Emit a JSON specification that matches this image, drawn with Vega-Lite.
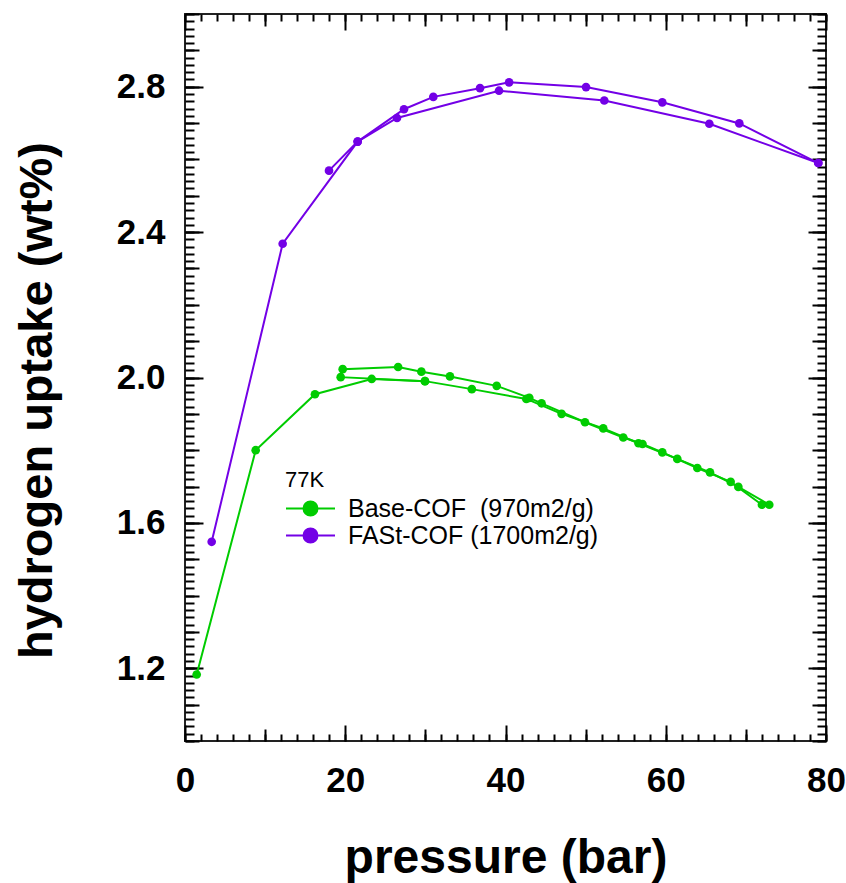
{
  "$schema": "https://vega.github.io/schema/vega-lite/v6.json",
  "width": 641,
  "height": 727,
  "autosize": "none",
  "padding": {"left": 185, "top": 14, "right": 20, "bottom": 142},
  "config": {
    "font": "Liberation Sans",
    "view": {"stroke": "#222222", "strokeWidth": 2}
  },
  "datasets": {
    "iso": [
      {"s": "Base-COF \u00a0(970m2/g)", "b": "B1", "i": 1, "p": 1.46, "u": 1.183},
      {"s": "Base-COF \u00a0(970m2/g)", "b": "B1", "i": 2, "p": 8.82, "u": 1.8},
      {"s": "Base-COF \u00a0(970m2/g)", "b": "B1", "i": 3, "p": 16.22, "u": 1.954},
      {"s": "Base-COF \u00a0(970m2/g)", "b": "B1", "i": 4, "p": 23.3, "u": 1.996},
      {"s": "Base-COF \u00a0(970m2/g)", "b": "B1", "i": 5, "p": 29.95, "u": 1.99},
      {"s": "Base-COF \u00a0(970m2/g)", "b": "B1", "i": 6, "p": 35.8, "u": 1.968},
      {"s": "Base-COF \u00a0(970m2/g)", "b": "B1", "i": 7, "p": 42.6, "u": 1.941},
      {"s": "Base-COF \u00a0(970m2/g)", "b": "B1", "i": 8, "p": 47.0, "u": 1.9},
      {"s": "Base-COF \u00a0(970m2/g)", "b": "B1", "i": 9, "p": 52.2, "u": 1.86},
      {"s": "Base-COF \u00a0(970m2/g)", "b": "B1", "i": 10, "p": 56.6, "u": 1.819},
      {"s": "Base-COF \u00a0(970m2/g)", "b": "B1", "i": 11, "p": 61.44, "u": 1.776},
      {"s": "Base-COF \u00a0(970m2/g)", "b": "B1", "i": 12, "p": 65.52, "u": 1.739},
      {"s": "Base-COF \u00a0(970m2/g)", "b": "B1", "i": 13, "p": 69.06, "u": 1.699},
      {"s": "Base-COF \u00a0(970m2/g)", "b": "B1", "i": 14, "p": 72.92, "u": 1.65},
      {"s": "Base-COF \u00a0(970m2/g)", "b": "B2", "i": 1, "p": 72.0, "u": 1.65},
      {"s": "Base-COF \u00a0(970m2/g)", "b": "B2", "i": 2, "p": 68.1, "u": 1.713},
      {"s": "Base-COF \u00a0(970m2/g)", "b": "B2", "i": 3, "p": 63.94, "u": 1.751},
      {"s": "Base-COF \u00a0(970m2/g)", "b": "B2", "i": 4, "p": 59.57, "u": 1.794},
      {"s": "Base-COF \u00a0(970m2/g)", "b": "B2", "i": 5, "p": 57.1, "u": 1.817},
      {"s": "Base-COF \u00a0(970m2/g)", "b": "B2", "i": 6, "p": 54.7, "u": 1.835},
      {"s": "Base-COF \u00a0(970m2/g)", "b": "B2", "i": 7, "p": 49.92, "u": 1.877},
      {"s": "Base-COF \u00a0(970m2/g)", "b": "B2", "i": 8, "p": 44.5, "u": 1.929},
      {"s": "Base-COF \u00a0(970m2/g)", "b": "B2", "i": 9, "p": 42.97, "u": 1.944},
      {"s": "Base-COF \u00a0(970m2/g)", "b": "B2", "i": 10, "p": 38.9, "u": 1.977},
      {"s": "Base-COF \u00a0(970m2/g)", "b": "B2", "i": 11, "p": 33.07, "u": 2.003},
      {"s": "Base-COF \u00a0(970m2/g)", "b": "B2", "i": 12, "p": 29.5, "u": 2.016},
      {"s": "Base-COF \u00a0(970m2/g)", "b": "B2", "i": 13, "p": 26.6, "u": 2.029},
      {"s": "Base-COF \u00a0(970m2/g)", "b": "B2", "i": 14, "p": 19.68, "u": 2.023},
      {"s": "Base-COF \u00a0(970m2/g)", "b": "B2", "i": 15, "p": 19.43, "u": 2.001},
      {"s": "Base-COF \u00a0(970m2/g)", "b": "B2", "i": 16, "p": 29.95, "u": 1.99},
      {"s": "FASt-COF (1700m2/g)", "b": "F1", "i": 1, "p": 3.33, "u": 1.548},
      {"s": "FASt-COF (1700m2/g)", "b": "F1", "i": 2, "p": 12.19, "u": 2.368},
      {"s": "FASt-COF (1700m2/g)", "b": "F1", "i": 3, "p": 21.55, "u": 2.649},
      {"s": "FASt-COF (1700m2/g)", "b": "F1", "i": 4, "p": 26.46, "u": 2.714},
      {"s": "FASt-COF (1700m2/g)", "b": "F1", "i": 5, "p": 39.19, "u": 2.789},
      {"s": "FASt-COF (1700m2/g)", "b": "F1", "i": 6, "p": 52.33, "u": 2.762},
      {"s": "FASt-COF (1700m2/g)", "b": "F1", "i": 7, "p": 65.44, "u": 2.698},
      {"s": "FASt-COF (1700m2/g)", "b": "F1", "i": 8, "p": 79.04, "u": 2.59},
      {"s": "FASt-COF (1700m2/g)", "b": "F2", "i": 1, "p": 79.04, "u": 2.59},
      {"s": "FASt-COF (1700m2/g)", "b": "F2", "i": 2, "p": 69.18, "u": 2.699},
      {"s": "FASt-COF (1700m2/g)", "b": "F2", "i": 3, "p": 59.57, "u": 2.757},
      {"s": "FASt-COF (1700m2/g)", "b": "F2", "i": 4, "p": 50.05, "u": 2.799},
      {"s": "FASt-COF (1700m2/g)", "b": "F2", "i": 5, "p": 40.45, "u": 2.812},
      {"s": "FASt-COF (1700m2/g)", "b": "F2", "i": 6, "p": 36.82, "u": 2.796},
      {"s": "FASt-COF (1700m2/g)", "b": "F2", "i": 7, "p": 30.99, "u": 2.772},
      {"s": "FASt-COF (1700m2/g)", "b": "F2", "i": 8, "p": 27.33, "u": 2.738},
      {"s": "FASt-COF (1700m2/g)", "b": "F2", "i": 9, "p": 21.55, "u": 2.649},
      {"s": "FASt-COF (1700m2/g)", "b": "F2", "i": 10, "p": 17.97, "u": 2.569}
    ],
    "anchor": [{"p": 0, "u": 1}]
  },
  "resolve": {"axis": {"x": "independent", "y": "independent"}},
  "layer": [
    {
      "data": {"name": "iso"},
      "mark": {"type": "line", "strokeWidth": 2, "point": {"filled": true, "size": 75, "opacity": 1}},
      "encoding": {
        "x": {
          "field": "p", "type": "quantitative",
          "scale": {"domain": [0, 80], "nice": false, "zero": false},
          "axis": {
            "orient": "bottom", "values": [0, 20, 40, 60, 80], "ticks": false, "tickSize": 0, "domain": false, "grid": false,
            "labelFontSize": 35, "labelFontWeight": "bold", "labelColor": "black", "labelPadding": 22, "labelFlush": false,
            "title": "pressure (bar)", "titleFontSize": 48, "titleFontWeight": "bold", "titleColor": "black", "titlePadding": 36
          }
        },
        "y": {
          "field": "u", "type": "quantitative",
          "scale": {"domain": [1, 3], "nice": false, "zero": false},
          "axis": {
            "orient": "left", "values": [1.2, 1.6, 2.0, 2.4, 2.8], "format": ".1f", "ticks": false, "tickSize": 0, "domain": false, "grid": false,
            "labelFontSize": 35, "labelFontWeight": "bold", "labelColor": "black", "labelPadding": 20, "labelFlush": false,
            "title": "hydrogen uptake (wt%)", "titleFontSize": 47, "titleFontWeight": "bold", "titleColor": "black", "titlePadding": 55, "titleY": 386
          }
        },
        "color": {
          "field": "s", "type": "nominal",
          "scale": {"domain": ["Base-COF \u00a0(970m2/g)", "FASt-COF (1700m2/g)"], "range": ["#00cc00", "#7300e6"]},
          "legend": {
            "orient": "none", "legendX": 100, "legendY": 456,
            "title": "77K", "titleFontSize": 22, "titleFontWeight": "normal", "titleColor": "black", "titlePadding": 3,
            "labelFontSize": 25, "labelColor": "black", "labelOffset": 36, "labelLimit": 500,
            "symbolType": "M-1,0L2.92,0M1.52,0A0.56,0.56,0,1,1,0.4,0A0.56,0.56,0,1,1,1.52,0Z",
            "symbolSize": 625, "symbolStrokeWidth": 2, "rowPadding": -3,
            "encode": {"symbols": {"update": {
              "fill": {"scale": "color", "field": "value"},
              "stroke": {"scale": "color", "field": "value"},
              "strokeWidth": {"value": 2},
              "opacity": {"value": 1}
            }}}
          }
        },
        "detail": {"field": "b"},
        "order": {"field": "i", "type": "quantitative"}
      }
    },
    {
      "data": {"name": "anchor"},
      "mark": {"type": "point", "opacity": 0},
      "encoding": {
        "x": {"field": "p", "type": "quantitative", "scale": {"domain": [0, 80], "nice": false, "zero": false},
          "axis": {"orient": "bottom", "values": [0, 20, 40, 60, 80], "labels": false, "domain": false, "grid": false, "title": null, "tickSize": 16, "offset": -16, "tickWidth": 2, "tickColor": "black"}},
        "y": {"field": "u", "type": "quantitative", "scale": {"domain": [1, 3], "nice": false, "zero": false},
          "axis": {"orient": "left", "values": [1.2, 1.6, 2.0, 2.4, 2.8], "labels": false, "domain": false, "grid": false, "title": null, "tickSize": 18, "offset": -18, "tickWidth": 2, "tickColor": "black"}}
      }
    },
    {
      "data": {"name": "anchor"},
      "mark": {"type": "point", "opacity": 0},
      "encoding": {
        "x": {"field": "p", "type": "quantitative", "scale": {"domain": [0, 80], "nice": false, "zero": false},
          "axis": {"orient": "bottom", "values": [10, 30, 50, 70], "labels": false, "domain": false, "grid": false, "title": null, "tickSize": 12, "offset": -12, "tickWidth": 2, "tickColor": "black"}},
        "y": {"field": "u", "type": "quantitative", "scale": {"domain": [1, 3], "nice": false, "zero": false},
          "axis": {"orient": "left", "values": [1.0, 1.1, 1.2, 1.3, 1.4, 1.5, 1.6, 1.7, 1.8, 1.9, 2.0, 2.1, 2.2, 2.3, 2.4, 2.5, 2.6, 2.7, 2.8, 2.9, 3.0], "labels": false, "domain": false, "grid": false, "title": null, "tickSize": 14, "offset": -14, "tickWidth": 2, "tickColor": "black"}}
      }
    },
    {
      "data": {"name": "anchor"},
      "mark": {"type": "point", "opacity": 0},
      "encoding": {
        "x": {"field": "p", "type": "quantitative", "scale": {"domain": [0, 80], "nice": false, "zero": false},
          "axis": {"orient": "bottom", "values": [0, 2, 4, 6, 8, 10, 12, 14, 16, 18, 20, 22, 24, 26, 28, 30, 32, 34, 36, 38, 40, 42, 44, 46, 48, 50, 52, 54, 56, 58, 60, 62, 64, 66, 68, 70, 72, 74, 76, 78, 80], "labels": false, "domain": false, "grid": false, "title": null, "tickSize": 7, "offset": -7, "tickWidth": 2, "tickColor": "black"}},
        "y": {"field": "u", "type": "quantitative", "scale": {"domain": [1, 3], "nice": false, "zero": false},
          "axis": {"orient": "left", "values": [1.0, 1.02, 1.04, 1.06, 1.08, 1.1, 1.12, 1.14, 1.16, 1.18, 1.2, 1.22, 1.24, 1.26, 1.28, 1.3, 1.32, 1.34, 1.36, 1.38, 1.4, 1.42, 1.44, 1.46, 1.48, 1.5, 1.52, 1.54, 1.56, 1.58, 1.6, 1.62, 1.64, 1.66, 1.68, 1.7, 1.72, 1.74, 1.76, 1.78, 1.8, 1.82, 1.84, 1.86, 1.88, 1.9, 1.92, 1.94, 1.96, 1.98, 2.0, 2.02, 2.04, 2.06, 2.08, 2.1, 2.12, 2.14, 2.16, 2.18, 2.2, 2.22, 2.24, 2.26, 2.28, 2.3, 2.32, 2.34, 2.36, 2.38, 2.4, 2.42, 2.44, 2.46, 2.48, 2.5, 2.52, 2.54, 2.56, 2.58, 2.6, 2.62, 2.64, 2.66, 2.68, 2.7, 2.72, 2.74, 2.76, 2.78, 2.8, 2.82, 2.84, 2.86, 2.88, 2.9, 2.92, 2.94, 2.96, 2.98, 3.0], "labels": false, "domain": false, "grid": false, "title": null, "tickSize": 9, "offset": -9, "tickWidth": 2, "tickColor": "black"}}
      }
    },
    {
      "data": {"name": "anchor"},
      "mark": {"type": "point", "opacity": 0},
      "encoding": {
        "x": {"field": "p", "type": "quantitative", "scale": {"domain": [0, 80], "nice": false, "zero": false},
          "axis": {"orient": "top", "values": [0, 20, 40, 60, 80], "labels": false, "domain": false, "grid": false, "title": null, "tickSize": 16, "offset": -16, "tickWidth": 2, "tickColor": "black"}},
        "y": {"field": "u", "type": "quantitative", "scale": {"domain": [1, 3], "nice": false, "zero": false},
          "axis": {"orient": "right", "values": [1.2, 1.6, 2.0, 2.4, 2.8], "labels": false, "domain": false, "grid": false, "title": null, "tickSize": 18, "offset": -18, "tickWidth": 2, "tickColor": "black"}}
      }
    },
    {
      "data": {"name": "anchor"},
      "mark": {"type": "point", "opacity": 0},
      "encoding": {
        "x": {"field": "p", "type": "quantitative", "scale": {"domain": [0, 80], "nice": false, "zero": false},
          "axis": {"orient": "top", "values": [10, 30, 50, 70], "labels": false, "domain": false, "grid": false, "title": null, "tickSize": 12, "offset": -12, "tickWidth": 2, "tickColor": "black"}},
        "y": {"field": "u", "type": "quantitative", "scale": {"domain": [1, 3], "nice": false, "zero": false},
          "axis": {"orient": "right", "values": [1.0, 1.1, 1.2, 1.3, 1.4, 1.5, 1.6, 1.7, 1.8, 1.9, 2.0, 2.1, 2.2, 2.3, 2.4, 2.5, 2.6, 2.7, 2.8, 2.9, 3.0], "labels": false, "domain": false, "grid": false, "title": null, "tickSize": 14, "offset": -14, "tickWidth": 2, "tickColor": "black"}}
      }
    },
    {
      "data": {"name": "anchor"},
      "mark": {"type": "point", "opacity": 0},
      "encoding": {
        "x": {"field": "p", "type": "quantitative", "scale": {"domain": [0, 80], "nice": false, "zero": false},
          "axis": {"orient": "top", "values": [0, 2, 4, 6, 8, 10, 12, 14, 16, 18, 20, 22, 24, 26, 28, 30, 32, 34, 36, 38, 40, 42, 44, 46, 48, 50, 52, 54, 56, 58, 60, 62, 64, 66, 68, 70, 72, 74, 76, 78, 80], "labels": false, "domain": false, "grid": false, "title": null, "tickSize": 7, "offset": -7, "tickWidth": 2, "tickColor": "black"}},
        "y": {"field": "u", "type": "quantitative", "scale": {"domain": [1, 3], "nice": false, "zero": false},
          "axis": {"orient": "right", "values": [1.0, 1.02, 1.04, 1.06, 1.08, 1.1, 1.12, 1.14, 1.16, 1.18, 1.2, 1.22, 1.24, 1.26, 1.28, 1.3, 1.32, 1.34, 1.36, 1.38, 1.4, 1.42, 1.44, 1.46, 1.48, 1.5, 1.52, 1.54, 1.56, 1.58, 1.6, 1.62, 1.64, 1.66, 1.68, 1.7, 1.72, 1.74, 1.76, 1.78, 1.8, 1.82, 1.84, 1.86, 1.88, 1.9, 1.92, 1.94, 1.96, 1.98, 2.0, 2.02, 2.04, 2.06, 2.08, 2.1, 2.12, 2.14, 2.16, 2.18, 2.2, 2.22, 2.24, 2.26, 2.28, 2.3, 2.32, 2.34, 2.36, 2.38, 2.4, 2.42, 2.44, 2.46, 2.48, 2.5, 2.52, 2.54, 2.56, 2.58, 2.6, 2.62, 2.64, 2.66, 2.68, 2.7, 2.72, 2.74, 2.76, 2.78, 2.8, 2.82, 2.84, 2.86, 2.88, 2.9, 2.92, 2.94, 2.96, 2.98, 3.0], "labels": false, "domain": false, "grid": false, "title": null, "tickSize": 9, "offset": -9, "tickWidth": 2, "tickColor": "black"}}
      }
    }
  ]
}
